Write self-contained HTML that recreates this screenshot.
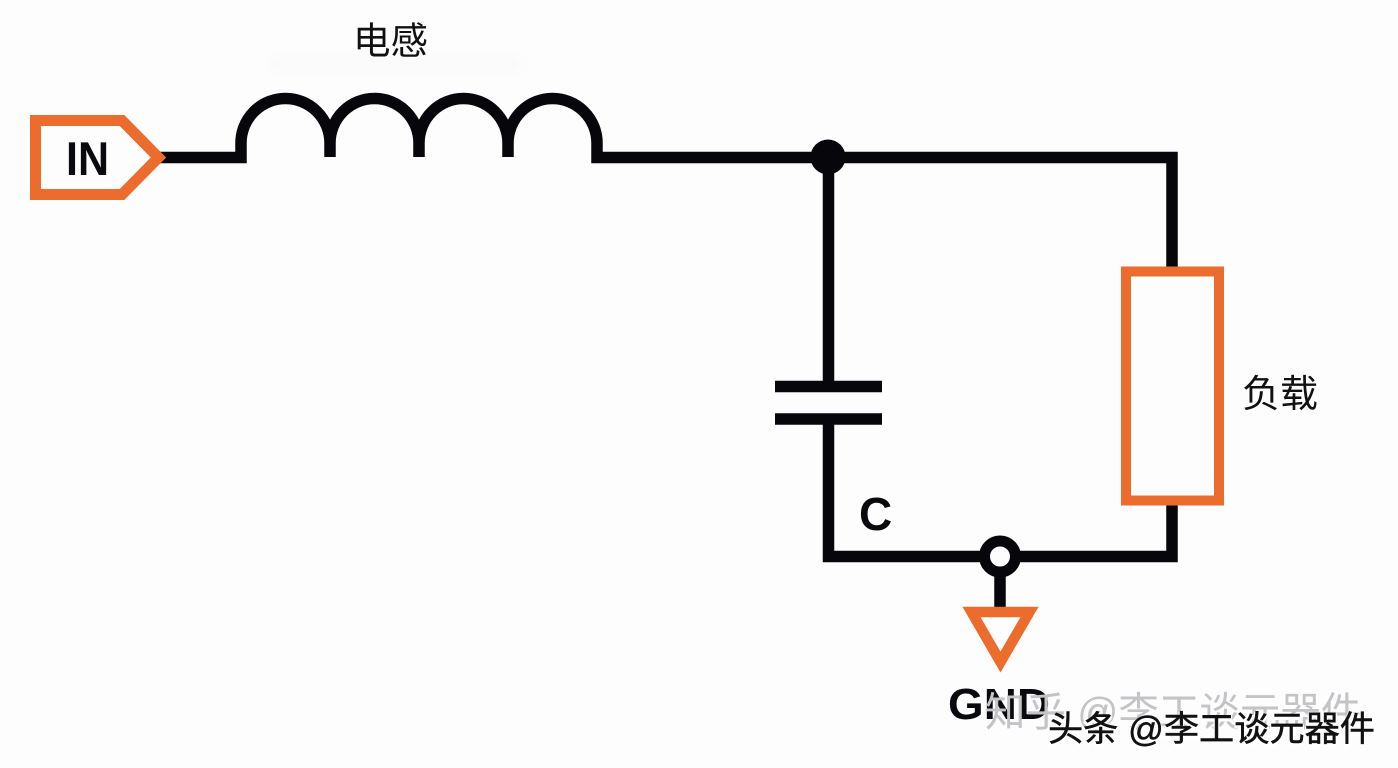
<!DOCTYPE html>
<html><head><meta charset="utf-8"><style>
html,body{margin:0;padding:0;background:#fdfdfe}
svg{display:block}
.b{font-family:"Liberation Sans",sans-serif;font-weight:700;fill:#0a0a0e}
.c{font-family:"Liberation Sans","Noto Sans CJK SC",sans-serif;fill:#111}
</style></head><body>
<svg width="1398" height="768" viewBox="0 0 1398 768" xmlns="http://www.w3.org/2000/svg">
<defs><filter id="s" x="-20%" y="-50%" width="140%" height="200%"><feGaussianBlur stdDeviation="4"/></filter></defs>
<rect width="1398" height="768" fill="#fdfdfe"/>
<rect x="268" y="56" width="250" height="16" fill="#f9f9fa" filter="url(#s)"/>
<g fill="none" stroke="#07070b" stroke-width="11.5" stroke-linejoin="miter">
<path d="M160 157.500H241V143A44.500 44.500 0 0 1 330 143V157M330 143A44.500 44.500 0 0 1 419 143V157M419 143A44.500 44.500 0 0 1 508 143V157M508 143A44.500 44.500 0 0 1 597 143V157.500H1172V270"/>
<path d="M828.500 157V385M828.500 420V556.500H1172V500"/>
<path d="M775 386.500H882M775 419H882"/>
<path d="M1000 556V610"/>
</g>
<circle cx="828" cy="157" r="17.500" fill="#07070b"/>
<circle cx="1000" cy="556.500" r="15.500" fill="#fdfdfe" stroke="#07070b" stroke-width="11"/>
<polygon points="35.500,120.500 122,120.500 158.500,157.500 122,194.500 35.500,194.500" fill="#fdfdfe" stroke="#ec6c2d" stroke-width="11"/>
<rect x="1126" y="271.500" width="93" height="229" fill="#fdfdfe" stroke="#ec6c2d" stroke-width="10"/>
<polygon points="971.500,612 1029.500,612 1000.500,662" fill="#fdfdfe" stroke="#ec6c2d" stroke-width="10.500"/>
<text class="b" x="66" y="175" font-size="47" textLength="43" lengthAdjust="spacingAndGlyphs">IN</text>
<text class="b" x="859" y="530" font-size="46">C</text>
<text class="b" x="948" y="719" font-size="44" textLength="102" lengthAdjust="spacingAndGlyphs">GND</text>
<text class="c" x="353" y="54" font-size="37.500">电感</text>
<text class="c" x="1242" y="407" font-size="38">负载</text>
<text class="c" x="985" y="726" font-size="40.500" style="fill:#c4c4c6">知乎 @李工谈元器件</text>
<text class="c" x="1048" y="743" font-size="35.200" style="fill:#fff;stroke:#fff;stroke-width:3">头条 @李工谈元器件</text>
<text class="c" x="1048" y="741" font-size="35.200" style="fill:#111;stroke:#111;stroke-width:.5">头条 @李工谈元器件</text>
</svg>
</body></html>
